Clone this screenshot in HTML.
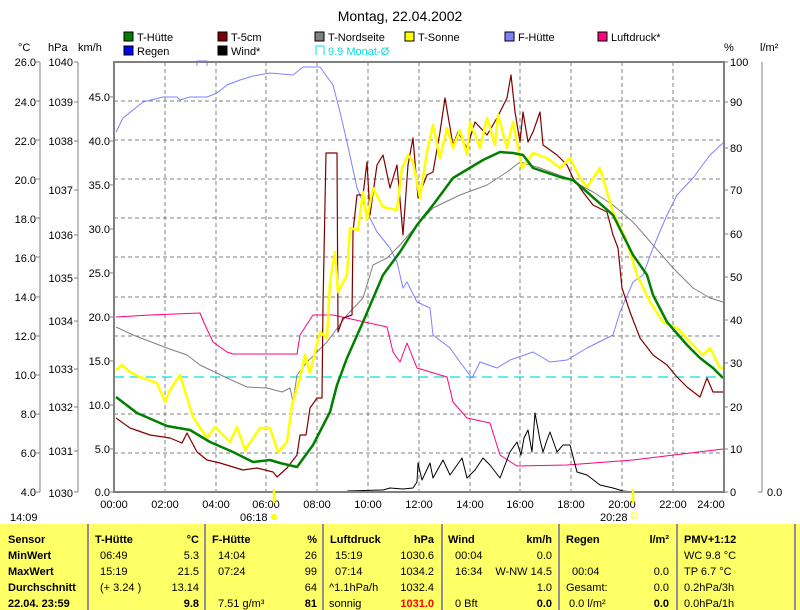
<!DOCTYPE html>
<html><head><meta charset="utf-8"><style>
body{margin:0;background:#fff;}
svg{display:block;font-family:"Liberation Sans",sans-serif;}
</style></head><body>
<svg width="800" height="610" viewBox="0 0 800 610" xmlns="http://www.w3.org/2000/svg">
<rect width="800" height="610" fill="#fff"/>
<text x="400" y="21" font-size="14" text-anchor="middle">Montag, 22.04.2002</text>
<!-- legend -->
<g font-size="11">
<rect x="124" y="32" width="9" height="9" fill="#008000" stroke="#000"/><text x="137" y="41">T-Hütte</text>
<rect x="218" y="32" width="9" height="9" fill="#800000" stroke="#000"/><text x="231" y="41">T-5cm</text>
<rect x="315" y="32" width="9" height="9" fill="#808080" stroke="#000"/><text x="328" y="41">T-Nordseite</text>
<rect x="405" y="32" width="9" height="9" fill="#ffff00" stroke="#000"/><text x="418" y="41">T-Sonne</text>
<rect x="505" y="32" width="9" height="9" fill="#8080ff" stroke="#000"/><text x="518" y="41">F-Hütte</text>
<rect x="598" y="32" width="9" height="9" fill="#ff0080" stroke="#000"/><text x="611" y="41">Luftdruck*</text>
<rect x="124" y="46" width="9" height="9" fill="#0000ff" stroke="#000"/><text x="137" y="55">Regen</text>
<rect x="218" y="46" width="9" height="9" fill="#000" stroke="#000"/><text x="231" y="55">Wind*</text>
<path d="M316 55 V46 H324 V55" fill="none" stroke="#00e0e0"/><text x="328" y="55" fill="#00e0e0">9.9 Monat-Ø</text>
<text x="18" y="51">°C</text><text x="48" y="51">hPa</text><text x="78" y="51">km/h</text>
<text x="724" y="51">%</text><text x="760" y="51">l/m²</text>
</g>
<!-- left axes -->
<g stroke="#808080" fill="none">
<line x1="40" y1="62" x2="40" y2="492"/>
<line x1="78" y1="62" x2="78" y2="492"/>
<line x1="762" y1="62" x2="762" y2="492"/>
<line x1="758" y1="492" x2="762" y2="492"/>
</g>
<g font-size="11" text-anchor="end">
<text x="36" y="66">26.0</text><text x="36" y="106">24.0</text><text x="36" y="145">22.0</text><text x="36" y="184">20.0</text><text x="36" y="223">18.0</text><text x="36" y="262">16.0</text><text x="36" y="301">14.0</text><text x="36" y="340">12.0</text><text x="36" y="379">10.0</text><text x="36" y="418">8.0</text><text x="36" y="457">6.0</text><text x="36" y="496">4.0</text>
<text x="73" y="66">1040</text><text x="73" y="106">1039</text><text x="73" y="145">1038</text><text x="73" y="194">1037</text><text x="73" y="239">1036</text><text x="73" y="282">1035</text><text x="73" y="325">1034</text><text x="73" y="373">1033</text><text x="73" y="411">1032</text><text x="73" y="455">1031</text><text x="73" y="497">1030</text>
<text x="110" y="101">45.0</text><text x="110" y="145">40.0</text><text x="110" y="189">35.0</text><text x="110" y="233">30.0</text><text x="110" y="277">25.0</text><text x="110" y="321">20.0</text><text x="110" y="365">15.0</text><text x="110" y="409">10.0</text><text x="110" y="453">5.0</text><text x="110" y="496">0.0</text>
</g>
<g font-size="11">
<text x="730" y="66">100</text><text x="730" y="106">90</text><text x="730" y="152">80</text><text x="730" y="194">70</text><text x="730" y="238">60</text><text x="730" y="281">50</text><text x="730" y="324">40</text><text x="730" y="367">30</text><text x="730" y="411">20</text><text x="730" y="453">10</text><text x="730" y="496">0</text>
<text x="767" y="496">0.0</text>
</g>
<g stroke="#808080">
<path d="M36 62h4M36 101h4M36 140h4M36 179h4M36 218h4M36 257h4M36 297h4M36 336h4M36 375h4M36 414h4M36 453h4M36 492h4"/>
<path d="M74 62h4M74 102h4M74 141h4M74 190h4M74 235h4M74 278h4M74 321h4M74 369h4M74 407h4M74 451h4M74 492h4"/>
<path d="M110 97h4M110 141h4M110 185h4M110 229h4M110 273h4M110 317h4M110 361h4M110 405h4M110 449h4M110 492h4"/>
<path d="M724 62h4M724 102h4M724 148h4M724 190h4M724 234h4M724 277h4M724 320h4M724 363h4M724 407h4M724 449h4M724 492h4"/>
</g>
<!-- grid -->
<g stroke="#808080" stroke-dasharray="4,3">
<path d="M114 101H724M114 140H724M114 179H724M114 218H724M114 257H724M114 297H724M114 336H724M114 414H724M114 453H724"/>
<path d="M165 62V492M216 62V492M266 62V492M317 62V492M368 62V492M419 62V492M470 62V492M520 62V492M571 62V492M622 62V492M673 62V492"/>
</g>
<path d="M114 377H724" stroke="#00e0e0" stroke-width="1.3" stroke-dasharray="10,6"/>
<path d="M197 66V61H207V66" fill="none" stroke="#8080ff"/>
<g fill="none" stroke-linejoin="round">
<polyline stroke="#8080ff" stroke-width="1" points="116,132 123,118 133,110 143,102 163,97 177,97 180,100 190,97 207,97 217,93 227,85 240,80 253,76 270,73 293,75 303,67 320,67 333,85 340,112 347,142 357,188 367,212 377,232 390,248 397,262 403,288 407,282 417,302 430,308 433,335 450,348 460,362 472,378 480,362 497,368 510,360 533,352 550,362 567,360 587,348 613,335 620,312 633,282 643,275 653,248 667,215 677,195 693,178 710,155 723,143"/>
<polyline stroke="#ff0080" stroke-width="1" points="116,317 150,315 200,313 205,325 213,342 227,352 233,354 297,354 300,335 313,315 333,315 387,327 393,352 400,362 407,343 417,368 447,377 453,402 467,418 490,423 500,455 517,466 567,465 633,460 723,449"/>
<polyline stroke="#808080" stroke-width="1" points="116,327 133,335 167,348 187,355 200,365 227,378 247,387 267,388 282,392 290,388 293,402 297,375 307,362 327,342 347,315 363,298 373,265 387,258 400,245 417,225 433,208 460,195 487,185 507,172 520,162 540,168 567,178 593,192 613,205 633,222 653,245 673,268 693,288 710,298 723,302"/>
<polyline stroke="#000" stroke-width="1" points="347,491 383,490 390,488 403,489 413,488 417,482 418,463 422,480 430,463 433,478 443,460 450,475 462,458 467,478 475,470 483,458 490,465 500,478 510,452 517,442 521,455 524,438 528,430 532,452 535,413 540,440 543,452 547,440 550,432 557,452 563,445 570,445 577,472 587,475 600,485 613,488 623,491 633,492"/>
<polyline stroke="#800000" stroke-width="1.2" points="116,418 130,428 150,435 170,438 182,443 187,433 197,452 207,460 220,463 233,467 243,470 257,468 273,472 277,477 287,468 297,455 300,435 306,435 310,408 317,398 322,398 323,305 326,153 337,153 338,332 343,318 352,315 353,232 357,195 363,195 367,162 370,215 377,165 383,155 390,188 397,165 403,235 408,165 413,138 418,198 427,175 433,172 440,132 445,98 453,145 458,132 467,148 475,122 487,135 497,118 507,98 511,75 515,112 520,142 523,112 528,142 533,132 540,112 543,145 557,155 567,165 573,178 583,192 593,205 607,212 613,235 618,248 622,288 630,312 640,338 653,355 667,365 677,377 687,387 700,397 707,378 713,392 723,392"/>
<polyline stroke="#ffff00" stroke-width="2.5" points="116,370 122,365 130,372 140,377 157,383 165,402 170,390 180,375 193,417 207,438 215,427 230,442 237,427 245,450 260,428 270,428 278,452 287,442 292,405 300,378 305,355 310,373 320,332 327,338 330,282 335,252 338,292 347,275 350,228 358,230 363,192 367,220 373,188 383,207 397,210 402,168 408,155 413,162 420,198 427,152 433,125 440,158 447,128 453,148 460,130 467,155 470,122 480,148 487,118 495,145 498,115 507,148 513,122 522,168 533,153 547,158 560,168 570,158 580,178 587,187 600,168 613,212 627,242 637,275 650,302 663,322 677,328 690,342 703,355 710,348 720,368 723,368"/>
<polyline stroke="#008000" stroke-width="2.5" points="116,397 137,413 167,426 190,430 210,442 233,452 253,462 270,460 280,463 297,467 313,445 330,412 337,385 347,358 363,322 383,275 400,252 417,225 433,205 453,178 483,160 500,152 513,153 523,155 533,168 560,177 573,180 587,192 613,215 633,255 647,275 653,295 667,322 687,345 700,358 713,368 723,378"/>
</g>
<rect x="114" y="62" width="610" height="430" fill="none" stroke="#808080" stroke-width="2"/>
<g font-size="11" text-anchor="middle">
<text x="114" y="508">00:00</text><text x="165" y="508">02:00</text><text x="216" y="508">04:00</text><text x="266" y="508">06:00</text><text x="317" y="508">08:00</text><text x="368" y="508">10:00</text><text x="419" y="508">12:00</text><text x="470" y="508">14:00</text><text x="520" y="508">16:00</text><text x="571" y="508">18:00</text><text x="622" y="508">20:00</text><text x="673" y="508">22:00</text><text x="711" y="508">24:00</text>
</g>
<path d="M274 489V503M633 489V503" stroke="#ffff00" stroke-width="2.5"/>
<g font-size="11">
<text x="10" y="521">14:09</text>
<text x="240" y="521">06:18</text><circle cx="274" cy="517" r="3" fill="#ffff00"/>
<text x="600" y="521">20:28</text><rect x="632" y="513" width="5" height="5" fill="none" stroke="#ffff00"/>
</g>
<!-- table -->
<rect x="0" y="524" width="800" height="86" fill="#ffff66"/>
<g stroke="#909090" stroke-width="2"><path d="M88 524V610M205 524V610M323 524V610M442 524V610M559 524V610M677 524V610M795 524V610"/></g>
<g font-size="11">
<g font-weight="bold">
<text x="8" y="543">Sensor</text><text x="8" y="559">MinWert</text><text x="8" y="575">MaxWert</text><text x="8" y="591">Durchschnitt</text><text x="8" y="607">22.04. 23:59</text>
<text x="95" y="543">T-Hütte</text><text x="212" y="543">F-Hütte</text><text x="330" y="543">Luftdruck</text><text x="448" y="543">Wind</text><text x="566" y="543">Regen</text><text x="684" y="543">PMV+1:12</text>
</g>
<g text-anchor="end">
<text x="199" y="543" font-weight="bold">°C</text><text x="199" y="559">5.3</text><text x="199" y="575">21.5</text><text x="199" y="591">13.14</text><text x="199" y="607" font-weight="bold">9.8</text>
<text x="317" y="543" font-weight="bold">%</text><text x="317" y="559">26</text><text x="317" y="575">99</text><text x="317" y="591">64</text><text x="317" y="607" font-weight="bold">81</text>
<text x="434" y="543" font-weight="bold">hPa</text><text x="434" y="559">1030.6</text><text x="434" y="575">1034.2</text><text x="434" y="591">1032.4</text><text x="434" y="607" font-weight="bold" fill="#ff0000">1031.0</text>
<text x="552" y="543" font-weight="bold">km/h</text><text x="552" y="559">0.0</text><text x="552" y="575">W-NW 14.5</text><text x="552" y="591">1.0</text><text x="552" y="607" font-weight="bold">0.0</text>
<text x="669" y="543" font-weight="bold">l/m²</text><text x="669" y="575">0.0</text><text x="669" y="591">0.0</text><text x="669" y="607" font-weight="bold">0.0</text>
</g>
<text x="100" y="559">06:49</text><text x="100" y="575">15:19</text><text x="100" y="591">(+ 3.24 )</text>
<text x="218" y="559">14:04</text><text x="218" y="575">07:24</text><text x="218" y="607">7.51 g/m³</text>
<text x="335" y="559">15:19</text><text x="335" y="575">07:14</text><text x="329" y="591">^1.1hPa/h</text><text x="329" y="607">sonnig</text>
<text x="455" y="559">00:04</text><text x="455" y="575">16:34</text><text x="455" y="607">0 Bft</text>
<text x="572" y="575">00:04</text><text x="566" y="591">Gesamt:</text><text x="569" y="607">0.0 l/m²</text>
<text x="684" y="559">WC 9.8 °C</text><text x="684" y="575">TP 6.7 °C</text><text x="684" y="591">0.2hPa/3h</text><text x="684" y="607">0.0hPa/1h</text>
</g>
</svg>
</body></html>
